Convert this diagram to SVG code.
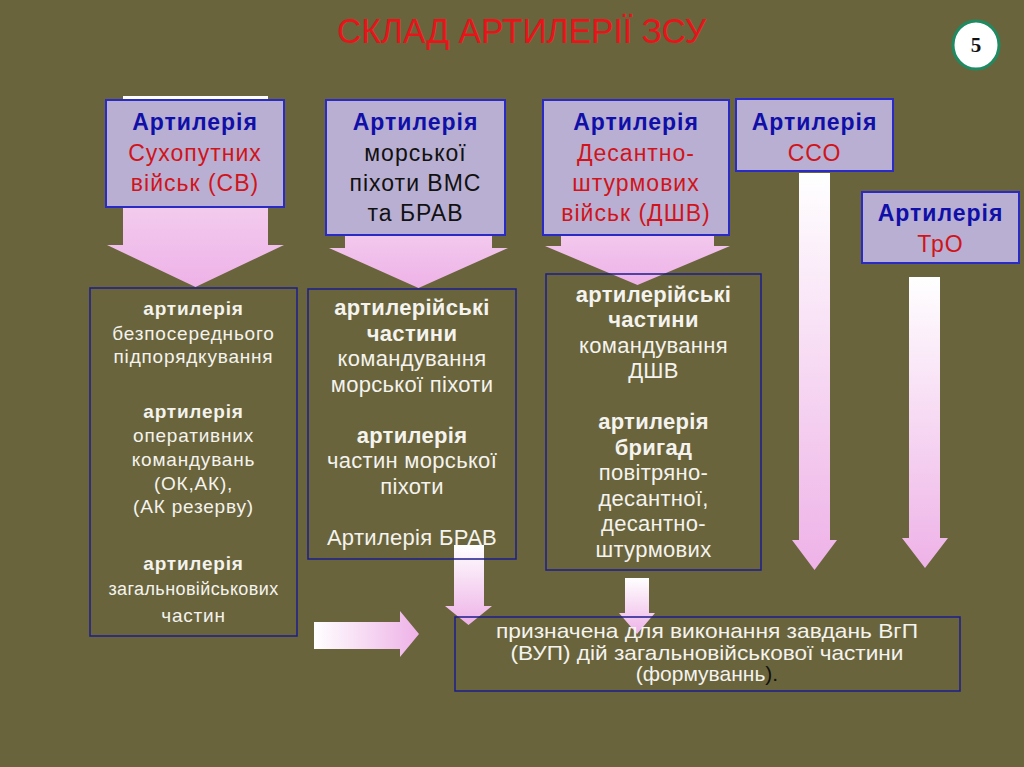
<svg xmlns="http://www.w3.org/2000/svg" width="1024" height="767" viewBox="0 0 1024 767">
<defs>
<linearGradient id="gv" x1="0" y1="0" x2="0" y2="1">
<stop offset="0" stop-color="#ffffff"/>
<stop offset="1" stop-color="#eeb2e7"/>
</linearGradient>
<linearGradient id="gv2" x1="0" y1="0" x2="0" y2="1">
<stop offset="0" stop-color="#ffffff"/>
<stop offset="0.55" stop-color="#f3cdef"/>
<stop offset="1" stop-color="#eeb2e7"/>
</linearGradient>
<linearGradient id="gh" x1="0" y1="0" x2="1" y2="0">
<stop offset="0" stop-color="#ffffff"/>
<stop offset="1" stop-color="#eeb2e7"/>
</linearGradient>
<style>
.top{fill:#b9afd3;stroke:#2a2ac4;stroke-width:2}
.low{fill:none;stroke:#1c1c8c;stroke-width:1.5}
.t{font-family:"Liberation Sans",Arial,sans-serif;text-anchor:middle}
.th{font-size:23px;letter-spacing:1px}
.b{font-weight:bold}
.blue{fill:#1010a8}
.red{fill:#d0141a}
.blk{fill:#111111}
.w{fill:#f4f3ee}
.s1{font-size:19px;letter-spacing:0.8px}
.s2{font-size:22px;letter-spacing:0.3px}
</style>
</defs>
<rect x="0" y="0" width="1024" height="767" fill="#6a643c"/>

<g id="connectors">
<polygon fill="url(#gv2)" points="123,96 268,96 268,245 284,245 195.5,287 107,245 123,245"/>
<polygon fill="url(#gv2)" points="345,150 492,150 492,248 508,248 418.5,288 329,248 345,248"/>
<polygon fill="url(#gv2)" points="561,150 714,150 714,246 730,246 637.5,285 545,246 561,246"/>
<polygon fill="url(#gv)" points="799,173 830,173 830,540 837,540 814.5,570 792,540 799,540"/>
<polygon fill="url(#gv)" points="909,277 940,277 940,538 948,538 925,568 902,538 909,538"/>
<polygon fill="url(#gv)" points="454,545 484,545 484,606 492,606 468.5,625 445,606 454,606"/>
<polygon fill="url(#gv)" points="625,578 649,578 649,613 655,613 637,634 619,613 625,613"/>
<polygon fill="url(#gh)" points="314,622 400,622 400,611 419,634 400,657 400,649 314,649"/>
</g>

<g id="title">
<text x="521.5" y="43" class="t" font-size="35" fill="#e8141a" textLength="369" lengthAdjust="spacingAndGlyphs">СКЛАД АРТИЛЕРІЇ ЗСУ</text>
</g>

<g id="badge">
<ellipse cx="976" cy="45" rx="23" ry="24" fill="#ffffff" stroke="#1f8a62" stroke-width="3"/>
<text x="976" y="52" font-family="'Liberation Serif',serif" font-weight="bold" font-size="21" text-anchor="middle" fill="#111">5</text>
</g>

<g id="node-sv">
<rect class="top" x="106" y="100" width="178" height="107"/>
<text class="t th b blue" x="195" y="130">Артилерія</text>
<text class="t th red" x="195" y="161">Сухопутних</text>
<text class="t th red" x="195" y="191">військ (СВ)</text>
</g>

<g id="node-mp">
<rect class="top" x="326" y="100" width="179" height="135"/>
<text class="t th b blue" x="415.5" y="130">Артилерія</text>
<text class="t th blk" x="415.5" y="161">морської</text>
<text class="t th blk" x="415.5" y="191">піхоти ВМС</text>
<text class="t th blk" x="415.5" y="221">та БРАВ</text>
</g>

<g id="node-dshv">
<rect class="top" x="543" y="100" width="186" height="135"/>
<text class="t th b blue" x="636" y="130">Артилерія</text>
<text class="t th red" x="636" y="161">Десантно-</text>
<text class="t th red" x="636" y="191">штурмових</text>
<text class="t th red" x="636" y="221">військ (ДШВ)</text>
</g>

<g id="node-sso">
<rect class="top" x="736" y="99" width="157" height="72"/>
<text class="t th b blue" x="814.5" y="130">Артилерія</text>
<text class="t th red" x="814.5" y="161">ССО</text>
</g>

<g id="node-tro">
<rect class="top" x="862" y="192" width="157" height="71"/>
<text class="t th b blue" x="940.5" y="221">Артилерія</text>
<text class="t th red" x="940.5" y="252">ТрО</text>
</g>

<g id="node-sv-list">
<rect class="low" x="90" y="288" width="207" height="348"/>
<text class="t s1 b w" x="193.5" y="315">артилерія</text>
<text class="t s1 w" x="193.5" y="340">безпосереднього</text>
<text class="t s1 w" x="193.5" y="363">підпорядкування</text>
<text class="t s1 b w" x="193.5" y="418">артилерія</text>
<text class="t s1 w" x="193.5" y="442">оперативних</text>
<text class="t s1 w" x="193.5" y="466">командувань</text>
<text class="t s1 w" x="193.5" y="490">(ОК,АК),</text>
<text class="t s1 w" x="193.5" y="513">(АК резерву)</text>
<text class="t s1 b w" x="193.5" y="570">артилерія</text>
<text class="t w" x="193.5" y="595" font-size="18" letter-spacing="0.4">загальновійськових</text>
<text class="t s1 w" x="193.5" y="622">частин</text>
</g>

<g id="node-mp-list">
<rect class="low" x="308" y="289" width="208" height="270"/>
<text class="t s2 b w" x="412" y="315">артилерійські</text>
<text class="t s2 b w" x="412" y="341">частини</text>
<text class="t s2 w" x="412" y="366">командування</text>
<text class="t s2 w" x="412" y="392">морської піхоти</text>
<text class="t s2 b w" x="412" y="443">артилерія</text>
<text class="t s2 w" x="412" y="468">частин морської</text>
<text class="t s2 w" x="412" y="494">піхоти</text>
<text class="t s2 w" x="412" y="545">Артилерія БРАВ</text>
</g>

<g id="node-dshv-list">
<rect class="low" x="546" y="274" width="215" height="296"/>
<text class="t s2 b w" x="653.5" y="302">артилерійські</text>
<text class="t s2 b w" x="653.5" y="327">частини</text>
<text class="t s2 w" x="653.5" y="353">командування</text>
<text class="t s2 w" x="653.5" y="378">ДШВ</text>
<text class="t s2 b w" x="653.5" y="429">артилерія</text>
<text class="t s2 b w" x="653.5" y="455">бригад</text>
<text class="t s2 w" x="653.5" y="480">повітряно-</text>
<text class="t s2 w" x="653.5" y="506">десантної,</text>
<text class="t s2 w" x="653.5" y="531">десантно-</text>
<text class="t s2 w" x="653.5" y="557">штурмових</text>
</g>

<g id="node-purpose">
<rect class="low" x="455" y="617" width="505" height="74" stroke="#2020a8"/>
<text class="t w" x="707" y="638" font-size="21" textLength="422" lengthAdjust="spacingAndGlyphs">призначена для виконання завдань ВгП</text>
<text class="t w" x="707" y="660" font-size="21" textLength="393" lengthAdjust="spacingAndGlyphs">(ВУП) дій загальновійськової частини</text>
<text class="t w" x="707" y="681" font-size="21">(формуваннь<tspan fill="#111111">).</tspan></text>
</g>
</svg>
